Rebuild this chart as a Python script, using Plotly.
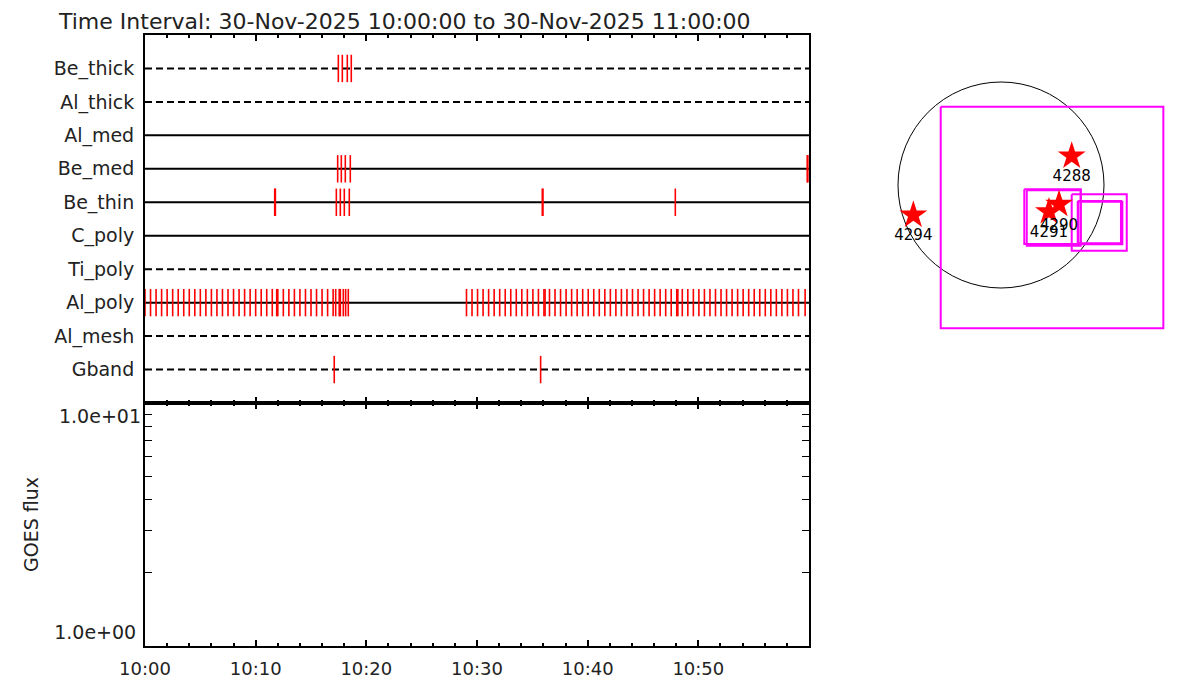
import pandas as pd
import plotly.graph_objects as go

# ---------------- data ----------------
title_text = "Time Interval: 30-Nov-2025 10:00:00 to 30-Nov-2025 11:00:00"
start_time = "2025-11-30 10:00:00"
end_time = "2025-11-30 11:00:00"

row_names = ["Be_thick", "Al_thick", "Al_med", "Be_med", "Be_thin",
             "C_poly", "Ti_poly", "Al_poly", "Al_mesh", "Gband"]

# event times, minutes after 10:00, per row
ev_be_thick = [17.47, 17.83, 18.28, 18.64]
ev_al_thick = []
ev_al_med = []
ev_be_med = [17.41, 17.74, 18.10, 18.55, 59.84, 59.90]
ev_be_thin = [11.72, 11.78, 17.29, 17.65, 18.01, 18.46, 35.90, 35.96, 47.92]
ev_c_poly = []
ev_ti_poly = []
ev_al_poly = [0.0, 0.5, 1.0, 1.5, 2.0, 2.5, 3.0, 3.5, 4.0, 4.5, 5.0, 5.5, 6.0,
              6.5, 7.0, 7.5, 8.0, 8.5, 9.0, 9.5, 10.0, 10.5, 11.0, 11.5, 11.9,
              12.0, 12.5, 13.0, 13.5, 14.0, 14.5, 15.0, 15.5, 16.0, 16.5, 17.0,
              17.23, 17.55, 17.65, 17.92, 18.13, 18.37,
              29.05, 29.55, 30.05, 30.55, 31.05, 31.55, 32.05, 32.55, 33.05,
              33.55, 34.05, 34.55, 35.05, 35.55, 36.05, 36.15, 36.55, 37.05,
              37.55, 38.05, 38.55, 39.05, 39.55, 40.05, 40.55, 41.05, 41.55,
              42.05, 42.55, 43.05, 43.55, 44.05, 44.55, 45.05, 45.55, 46.05,
              46.55, 47.05, 47.55, 48.05, 48.15, 48.55, 49.05, 49.55, 50.05,
              50.55, 51.05, 51.55, 52.05, 52.55, 53.05, 53.55, 54.05, 54.55,
              55.05, 55.55, 56.05, 56.55, 57.05, 57.55, 58.05, 58.55, 59.05,
              59.65]
ev_al_mesh = []
ev_gband = [17.10, 35.75]
events = [ev_be_thick, ev_al_thick, ev_al_med, ev_be_med, ev_be_thin,
          ev_c_poly, ev_ti_poly, ev_al_poly, ev_al_mesh, ev_gband]

x_tick_labels = ["10:00", "10:10", "10:20", "10:30", "10:40", "10:50"]
flux_range = [1.0, 10.0]
flux_tick_labels = ["1.0e+00", "1.0e+01"]
flux_title = "GOES flux"

# inset: solar disk (arcsec), AR locations, FOV boxes
sun_radius = 960
ar_x = [659, -817, 541, 447]
ar_y = [270, -280, -180, -249]
ar_labels = ["4288", "4294", "4290", "4291"]
fov_x0 = [-562, 217, 240, 659, 715, 720]
fov_x1 = [1513, 743, 743, 1172, 1118, 1131]
fov_y0 = [730, -40, -49, -87, -149, -156]
fov_y1 = [-1336, -550, -566, -612, -543, -553]

# ---------------- styles ----------------
row_dash = ["7px,4px", "7px,4px", "solid", "solid", "solid",
            "solid", "7px,4px", "solid", "7px,4px", "7px,4px"]
TXT = "#222222"
FONT = "DejaVu Sans"

base = pd.Timestamp(start_time)
t_end = pd.Timestamp(end_time)


def to_time(m):
    return base + pd.Timedelta(minutes=m)


fig = go.Figure()

# row baselines
for i, name in enumerate(row_names):
    fig.add_trace(go.Scatter(
        x=[base, t_end], y=[i, i], mode="lines",
        line=dict(color="black", width=2, dash=row_dash[i]),
        xaxis="x2", yaxis="y2", hoverinfo="skip"))

# red event ticks
tx, ty = [], []
for i, evs in enumerate(events):
    for m in evs:
        tt = to_time(m)
        tx += [tt, tt, None]
        ty += [i - 0.41, i + 0.41, None]
fig.add_trace(go.Scatter(
    x=tx, y=ty, mode="lines", line=dict(color="red", width=1.6),
    xaxis="x2", yaxis="y2", hoverinfo="skip"))

# empty GOES panel (invisible traces to anchor axes)
fig.add_trace(go.Scatter(x=[base, t_end], y=flux_range, mode="markers",
                         marker=dict(opacity=0), xaxis="x", yaxis="y",
                         hoverinfo="skip"))
fig.add_trace(go.Scatter(x=[base, t_end], y=flux_range, mode="markers",
                         marker=dict(opacity=0), xaxis="x", yaxis="y4",
                         hoverinfo="skip"))

# inset FOV boxes
for k in range(len(fov_x0)):
    fig.add_trace(go.Scatter(
        x=[fov_x0[k], fov_x1[k], fov_x1[k], fov_x0[k], fov_x0[k]],
        y=[fov_y0[k], fov_y0[k], fov_y1[k], fov_y1[k], fov_y0[k]],
        mode="lines", line=dict(color="#ff00ff", width=2),
        xaxis="x3", yaxis="y3", hoverinfo="skip"))

# active regions
fig.add_trace(go.Scatter(
    x=ar_x, y=ar_y, mode="markers+text", text=ar_labels,
    textposition="bottom center",
    textfont=dict(family=FONT, size=15, color="black"),
    marker=dict(symbol="star", size=21, color="red", line=dict(width=0)),
    xaxis="x3", yaxis="y3", hoverinfo="skip"))

fig.add_shape(type="circle", xref="x3", yref="y3",
              x0=-sun_radius, x1=sun_radius, y0=-sun_radius, y1=sun_radius,
              line=dict(color="black", width=1), layer="below")

W, H = 1200, 700
OFF = 8  # page body margin in the browser


def px(x):
    return (x - OFF) / W


def py(y):
    return 1 - (y - OFF) / H


xdom = [px(145), px(809)]
top_dom = [py(403), py(35)]
bot_dom = [py(646), py(403)]

common_x = dict(
    type="date", range=[base, t_end], domain=xdom, automargin=False,
    showline=True, linecolor="black", linewidth=2, mirror="ticks",
    ticks="inside", ticklen=6, tickwidth=2, tickcolor="black",
    minor=dict(ticks="inside", ticklen=3, tickwidth=2, tickcolor="black",
               tick0=base, dtick=120000),
    showgrid=False, zeroline=False,
)

fig.update_layout(
    width=W, height=H,
    margin=dict(l=0, r=0, t=0, b=0, pad=0, autoexpand=False),
    paper_bgcolor="white", plot_bgcolor="white",
    showlegend=False,
    font=dict(family=FONT, color=TXT),
    xaxis=dict(**common_x, anchor="y",
               tickmode="array",
               tickvals=[to_time(10 * k) for k in range(6)],
               ticktext=x_tick_labels,
               tickfont=dict(family=FONT, size=18, color=TXT),
               ticklabelstandoff=5),
    yaxis=dict(type="log", range=[0, 1], domain=bot_dom, anchor="x",
               automargin=False,
               tickmode="array",
               tickvals=[1, 2, 3, 4, 5, 6, 7, 8, 9, 10],
               ticktext=[flux_tick_labels[0], "", "", "", "", "", "", "", "",
                         ""],
               ticklabelposition="outside top",
               ticks="inside", ticklen=7, tickwidth=1, tickcolor="black",
               showline=True, linecolor="black", linewidth=2, mirror="ticks",
               showgrid=False, zeroline=False,
               tickfont=dict(family=FONT, size=19, color=TXT),
               ticklabelstandoff=3),
    yaxis4=dict(type="log", range=[0, 1], anchor="x", overlaying="y",
                side="left", automargin=False,
                tickmode="array", tickvals=[10],
                ticktext=[flux_tick_labels[1]],
                ticklabelposition="outside bottom",
                ticks="", showline=False, showgrid=False, zeroline=False,
                tickfont=dict(family=FONT, size=19, color=TXT),
                ticklabelstandoff=3),
    xaxis2=dict(**common_x, anchor="y2", matches="x", showticklabels=False,
                dtick=600000, tick0=base),
    yaxis2=dict(range=[10, -1], domain=top_dom, anchor="x2",
                automargin=False,
                tickmode="array", tickvals=list(range(len(row_names))),
                ticktext=row_names, ticks="",
                showline=True, linecolor="black", linewidth=2, mirror=True,
                showgrid=False, zeroline=False,
                tickfont=dict(family=FONT, size=19, color=TXT),
                ticklabelstandoff=5),
    xaxis3=dict(domain=[px(890), px(1170)], range=[-1034.6, 1575.1],
                anchor="y3", visible=False, automargin=False),
    yaxis3=dict(domain=[py(335), py(75)], range=[-1398, 1025.2],
                anchor="x3", visible=False, automargin=False),
)

fig.add_annotation(text=title_text, xref="paper", yref="paper",
                   x=px(57), y=py(8), xanchor="left", yanchor="top",
                   borderpad=0, showarrow=False,
                   font=dict(family=FONT, size=22, color=TXT))
fig.add_annotation(text=flux_title, xref="paper", yref="paper",
                   x=px(31), y=py(525), xanchor="center", yanchor="middle",
                   textangle=-90, showarrow=False,
                   font=dict(family=FONT, size=19, color=TXT))

fig.write_html("out.html")
